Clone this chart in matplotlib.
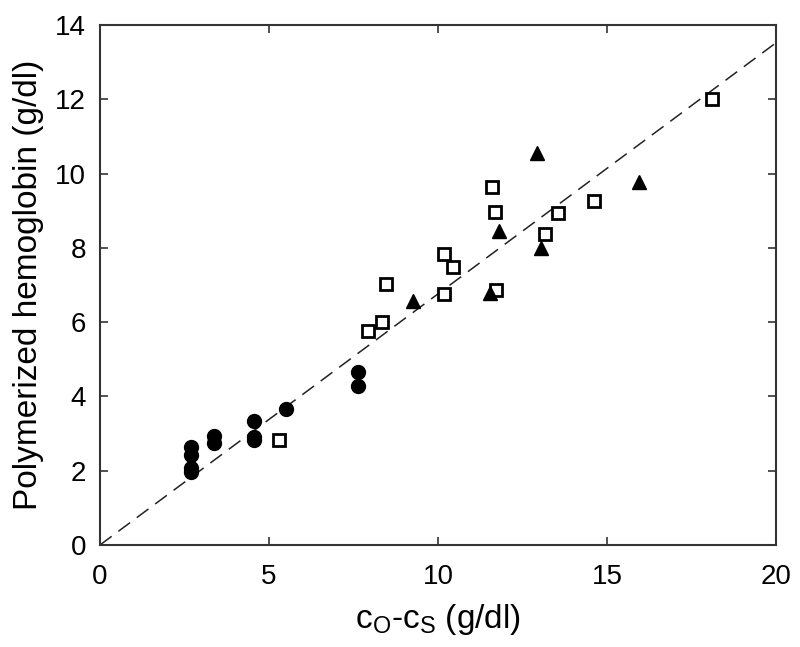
import matplotlib
matplotlib.use('Agg')
import matplotlib.pyplot as plt
import numpy as np

plt.rcParams['font.family'] = ['Liberation Sans', 'DejaVu Sans']

# filled circles
circ_x = [2.69, 2.69, 2.69, 2.69, 3.37, 3.37, 4.57, 4.57, 4.57, 5.49, 7.63, 7.63]
circ_y = [2.65, 2.42, 2.06, 1.97, 2.94, 2.74, 3.34, 2.92, 2.83, 3.66, 4.66, 4.28]

# open squares
sq_x = [5.30, 7.92, 8.35, 8.46, 10.19, 10.19, 10.45, 11.59, 11.70, 11.73, 13.18, 13.55, 14.62, 18.12]
sq_y = [2.83, 5.76, 6.00, 7.02, 7.84, 6.75, 7.49, 9.63, 8.97, 6.86, 8.37, 8.93, 9.25, 12.00]

# filled triangles
tri_x = [9.26, 11.54, 11.81, 12.92, 13.06, 15.96]
tri_y = [6.57, 6.78, 8.44, 10.56, 7.99, 9.78]

# dashed fit line through origin
slope = 0.676
line_x = np.array([0, 20])

fig = plt.figure(figsize=(8, 6.47), dpi=100)
ax = fig.add_axes([0.125, 0.1577, 0.845, 0.8037])

ax.plot(line_x, slope * line_x, color='#222222', linestyle=(0, (9.5, 5.5)), linewidth=1.1)
ax.plot(circ_x, circ_y, 'o', color='black', markersize=10, linestyle='none')
ax.plot(sq_x, sq_y, 's', markerfacecolor='white', markeredgecolor='black',
        markeredgewidth=2, markersize=9, linestyle='none')
ax.plot(tri_x, tri_y, '^', color='black', markersize=10, linestyle='none')

ax.set_xlim(0, 20)
ax.set_ylim(0, 14)
ax.set_xticks([0, 5, 10, 15, 20])
ax.set_yticks([0, 2, 4, 6, 8, 10, 12, 14])
ax.tick_params(direction='in', length=6, width=1.2, color='#333333',
               top=True, right=True, labelsize=20)
ax.tick_params(axis='x', pad=14)
ax.tick_params(axis='y', pad=10)
for s in ax.spines.values():
    s.set_color('#333333')
    s.set_linewidth(1.5)

ax.set_xlabel(r'$\mathregular{c_O}$-$\mathregular{c_S}$ (g/dl)', fontsize=24, labelpad=8)
ax.set_ylabel('Polymerized hemoglobin (g/dl)', fontsize=24, labelpad=8)

fig.savefig('out.png', dpi=100)
